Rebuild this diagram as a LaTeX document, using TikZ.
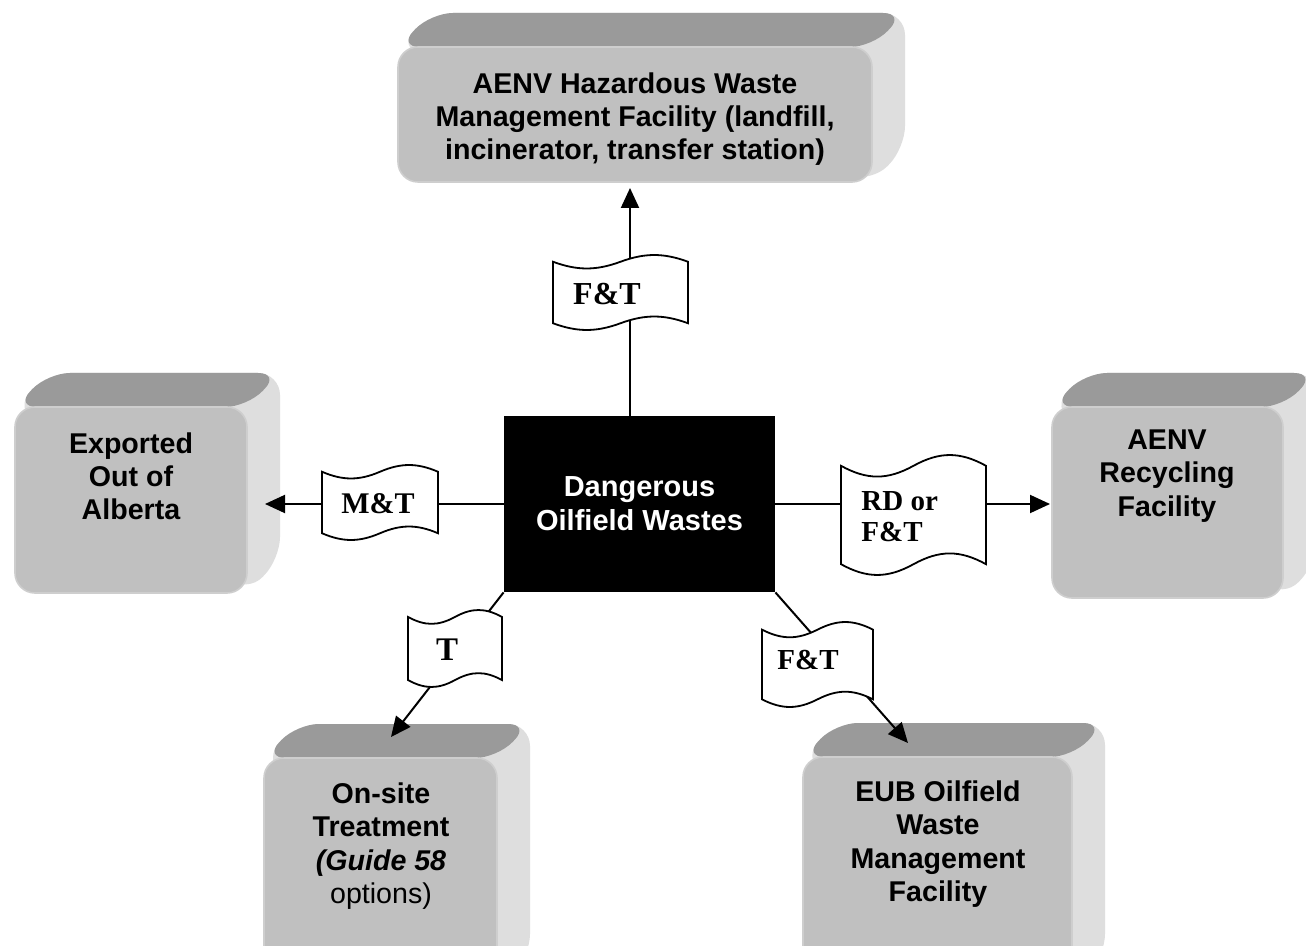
\documentclass[tikz,border=0pt]{standalone}
\usepackage{fontspec}
\setmainfont{Liberation Sans}
\newfontfamily\tnr{Liberation Serif}
\usetikzlibrary{arrows.meta,calc}
\definecolor{frontcol}{RGB}{192,192,192}
\definecolor{topcol}{RGB}{154,154,154}
\definecolor{sidecol}{RGB}{222,222,222}
\definecolor{edgecol}{RGB}{206,206,206}
% extruded rounded box: x0 y0 x1 y1 of the front face (pixel units, y down)
\newcommand\extbox[4]{%
  \fill[sidecol, rounded corners=11pt] (#1,#2) -- (#1+33,#2-34) -- (#3+33,#2-34) -- (#3+33,#4-34) -- (#3,#4) -- cycle;
  \fill[topcol, rounded corners=11pt] (#1,#2) -- (#1+33,#2-34) -- (#3+33,#2-34) -- (#3,#2) -- cycle;
  \filldraw[fill=frontcol, draw=edgecol, line width=0.8pt, rounded corners=10pt] (#1,#2) rectangle (#3,#4);
}
% punched-tape flag: x0 y0 x1 y1
\newcommand\tapeflag[4]{%
  \pgfmathsetmacro\flw{#3-#1}\pgfmathsetmacro\fla{0.09*(#4-#2)}%
  \filldraw[flagline] (#1,#2+\fla) .. controls (#1+0.18*\flw,#2+2.33*\fla) and (#1+0.32*\flw,#2+2.33*\fla) .. (#1+0.5*\flw,#2+\fla)
    .. controls (#1+0.68*\flw,#2-0.33*\fla) and (#1+0.82*\flw,#2-0.33*\fla) .. (#3,#2+\fla)
    -- (#3,#4-\fla)
    .. controls (#3-0.18*\flw,#4-2.33*\fla) and (#3-0.32*\flw,#4-2.33*\fla) .. (#3-0.5*\flw,#4-\fla)
    .. controls (#1+0.32*\flw,#4+0.33*\fla) and (#1+0.18*\flw,#4+0.33*\fla) .. (#1,#4-\fla) -- cycle;
}
\begin{document}
\begin{tikzpicture}[x=0.5pt,y=-0.5pt,
  boxtext/.style={inner sep=0pt, align=center, text=black, font=\bfseries\fontsize{14.3pt}{16.6pt}\selectfont},
  ctrbox/.style={fill=black, text=white, inner sep=0pt, align=center, minimum width=135.5pt, minimum height=88pt,
     font=\bfseries\fontsize{14.5pt}{17pt}\selectfont},
  flagtext/.style={inner sep=0pt, font=\tnr\bfseries\fontsize{#1}{15.5pt}\selectfont},
  flagline/.style={fill=white, draw=black, line width=0.9pt},
  conn/.style={draw=black, line width=1pt},
  arr/.style={conn, -{Triangle[length=10pt,width=9pt]}}]
\path[use as bounding box] (0,0) rectangle (1306,946);
\clip (0,0) rectangle (1306,946);
\fill[white] (0,0) rectangle (1306,946);

% 3D boxes
\extbox{398}{47}{872}{182}
\extbox{15}{407}{247}{593}
\extbox{1052}{407}{1283}{598}
\extbox{264}{758}{497}{990}
\extbox{803}{757}{1072}{990}

% box texts
\node[boxtext] (haz) at (635,119) {AENV Hazardous Waste\\Management Facility (landfill,\\incinerator, transfer station)};
\node[boxtext] (exp) at (131,476) {Exported\\Out of\\Alberta};
\node[boxtext] (rec) at (1167,476) {AENV\\Recycling\\Facility};
\node[boxtext, font=\mdseries\fontsize{14.3pt}{16.6pt}\selectfont] (ons) at (381,846)
  {\textbf{On-site}\\\textbf{Treatment}\\\textbf{\textit{(Guide 58}}\\options)};
\node[boxtext] (eub) at (938,844) {EUB Oilfield\\Waste\\Management\\Facility};

% central box
\node[ctrbox] (ctr) at (639.5,504) {Dangerous\\Oilfield Wastes};

% connector ends
\coordinate (hazIn) at (630,188);
\coordinate (expIn) at (265,504);
\coordinate (recIn) at (1050,504);
\coordinate (onsIn) at (391,737);
\coordinate (eubIn) at (908,743);

\draw[arr] ([xshift=-4.75pt]ctr.north) -- (hazIn);
\draw[arr] (ctr.west) -- (expIn);
\draw[arr] (ctr.east) -- (recIn);
\draw[arr] (ctr.south west) -- (onsIn);
\draw[arr] (ctr.south east) -- (eubIn);

% flags
\tapeflag{553}{255}{688}{330}
\tapeflag{322}{465}{438}{540}
\tapeflag{841}{455}{986}{575}
\tapeflag{408}{610}{502}{687}
\tapeflag{762}{622}{873}{707}

\node[flagtext=16pt] (lTop) at (607,294) {F\&T};
\node[flagtext=15pt] (lLeft) at (378,504) {M\&T};
\node[flagtext=14.5pt, align=left, anchor=west] (lRight) at (861,517) {RD or\\F\&T};
\node[flagtext=16.5pt] (lLL) at (447,650) {T};
\node[flagtext=14.5pt] (lLR) at (808,660) {F\&T};
\end{tikzpicture}
\end{document}
